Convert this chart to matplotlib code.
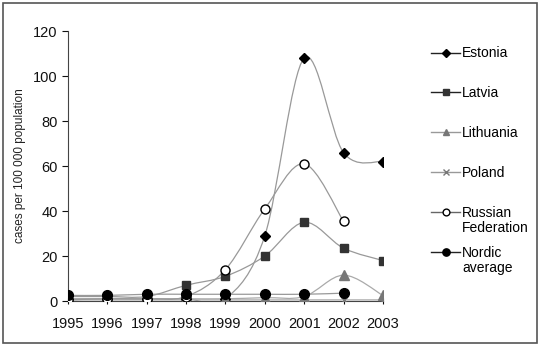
import numpy as np
import matplotlib
matplotlib.use("Agg")
import matplotlib.pyplot as plt
from matplotlib.path import Path
from matplotlib.patches import PathPatch, Rectangle
from matplotlib.lines import Line2D

plt.rcParams['font.family'] = ['Liberation Sans', 'DejaVu Sans']

years = [1995, 1996, 1997, 1998, 1999, 2000, 2001, 2002, 2003]
estonia = [1, 1, 1, 1, 1, 29, 108, 66, 62]
latvia = [2, 2, 2, 7, 11, 20, 35, 23.5, 18]
lithuania = [1, 1, 1, 1, 1, 1.5, 2, 11.5, 2.5]
poland = [0.5, 0.5, 0.5, 0.5, 0.5, 0.5, 0.5, 0.5, 0.5]
russia_years = [1995, 1996, 1997, 1998, 1999, 2000, 2001, 2002]
russia = [0.5, 1, 1, 2, 14, 41, 61, 35.5]
nordic_years = [1995, 1996, 1997, 1998, 1999, 2000, 2001, 2002]
nordic = [2.5, 2.5, 3, 3, 3, 3, 3, 3.5]


def smooth_path(xs, ys):
    # Excel-like smoothed line: cubic Bezier segments through the points
    p = np.column_stack([xs, ys]).astype(float)
    n = len(p)
    verts = [p[0]]
    codes = [Path.MOVETO]
    for i in range(n - 1):
        p_prev = p[i - 1] if i > 0 else p[i]
        p_next2 = p[i + 2] if i + 2 < n else p[i + 1]
        c1 = p[i] + (p[i + 1] - p_prev) / 6
        c2 = p[i + 1] - (p_next2 - p[i]) / 6
        verts += [c1, c2, p[i + 1]]
        codes += [Path.CURVE4] * 3
    return Path(verts, codes)


# label, second legend line, x, y, marker style, size, plot line colour, legend line colour
series = [
    ("Estonia", "", years, estonia, dict(marker='D', mfc='black', mec='black'), 5.5, '#999999', '#222222'),
    ("Latvia", "", years, latvia, dict(marker='s', mfc='#333333', mec='#333333'), 6, '#999999', '#222222'),
    ("Lithuania", "", years, lithuania, dict(marker='^', mfc='#777777', mec='#777777'), 6.5, '#aaaaaa', '#999999'),
    ("Poland", "", years, poland, dict(marker='x', mfc='#777777', mec='#777777'), 5, '#aaaaaa', '#999999'),
    ("Russian", "Federation", russia_years, russia, dict(marker='o', mfc='white', mec='black'), 6.5, '#999999', '#666666'),
    ("Nordic", "average", nordic_years, nordic, dict(marker='o', mfc='black', mec='black'), 7, '#999999', '#222222'),
]

fig = plt.figure(figsize=(5.4, 3.46), dpi=100)
ax = fig.add_axes([0.126, 0.130, 0.583, 0.780])

handles = []
for label, extra, xs, ys, mk, ms, lc, legc in series:
    ax.add_patch(PathPatch(smooth_path(xs, ys), fill=False, edgecolor=lc, lw=0.9, zorder=2))
    ax.plot(xs, ys, linestyle='none', ms=ms, zorder=3, **mk)
    handles.append(Line2D([], [], color=legc, lw=1.0, ms=ms * 0.75, **mk))

ax.set_xlim(1995, 2003)
ax.set_ylim(0, 120)
ax.set_yticks(range(0, 121, 20))
ax.set_xticks(years)
ax.set_xticklabels([str(y) for y in years])
ax.spines['top'].set_visible(False)
ax.spines['right'].set_visible(False)
ax.spines['left'].set_color('#444444')
ax.spines['bottom'].set_color('#444444')
ax.tick_params(axis='both', labelsize=10.5, colors='#111111', length=4, direction='out')
ax.tick_params(axis='x', direction='inout', length=5, pad=9)
ax.set_ylabel("cases per 100 000 population", fontsize=8.5, labelpad=5, color='#222222')
for t in ax.get_xticklabels() + ax.get_yticklabels():
    t.set_clip_on(False)

leg = fig.legend(handles, [s[0] for s in series], loc='upper left',
                 bbox_to_anchor=(0.798, 0.866), frameon=False, fontsize=10,
                 handlelength=2.1, handletextpad=0.15, labelspacing=1.86,
                 borderaxespad=0, borderpad=0)

# second lines of the two-line legend labels, placed under the first line
fig.canvas.draw()
inv = fig.transFigure.inverted()
for txt, s in zip(leg.get_texts(), series):
    if s[1]:
        bb = txt.get_window_extent()
        x0, y0 = inv.transform((bb.x0, bb.y0))
        fig.text(x0, y0 - 0.005, s[1], fontsize=10, va='top', ha='left')

fig.patches.append(Rectangle((0.006, 0.009), 0.988, 0.982, transform=fig.transFigure,
                             fill=False, edgecolor='#555555', lw=1.2))

fig.savefig("out.png", dpi=100)
